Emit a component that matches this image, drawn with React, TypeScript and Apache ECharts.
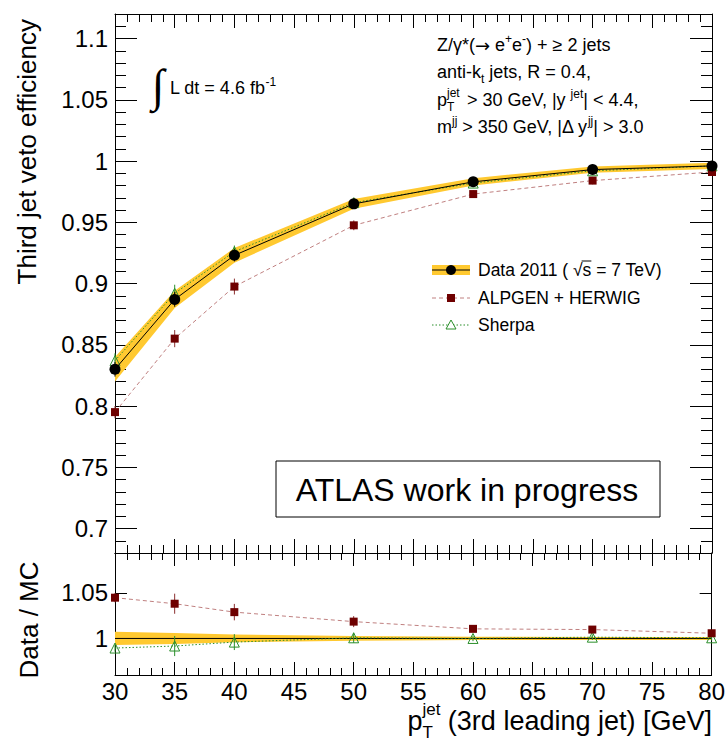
import React, { useEffect, useRef } from 'react';
import * as echarts from 'echarts';

// ---------- data ----------
const ptBins = [30, 35, 40, 50, 60, 70, 80];

const dataEff = [0.830, 0.887, 0.923, 0.965, 0.983, 0.993, 0.996];
const dataStatErr = [0.006, 0.006, 0.005, 0.003, 0.002, 0.002, 0.002];
const dataBandErr = [0.010, 0.007, 0.006, 0.004, 0.003, 0.0025, 0.0025];

const alpgenEff = [0.795, 0.855, 0.8975, 0.9475, 0.973, 0.984, 0.991];
const alpgenErr = [0.005, 0.007, 0.0065, 0.004, 0.003, 0.003, 0.003];

const sherpaEff = [0.837, 0.892, 0.926, 0.966, 0.982, 0.992, 0.996];
const sherpaErr = [0.006, 0.007, 0.005, 0.003, 0.003, 0.002, 0.002];

const dataRatio = [1, 1, 1, 1, 1, 1, 1];
const ratioBandErr = [0.0073, 0.006, 0.0042, 0.0026, 0.0018, 0.0017, 0.0017];
const alpgenRatio = [1.0446, 1.038, 1.0288, 1.0184, 1.0105, 1.0097, 1.0057];
const alpgenRatioErr = [0.005, 0.011, 0.009, 0.006, 0.003, 0.003, 0.002];
const sherpaRatio = [0.9895, 0.9917, 0.996, 1.0007, 1.0, 1.0014, 1.0007];
const sherpaRatioErr = [0.004, 0.011, 0.0087, 0.0055, 0.003, 0.003, 0.003];

const mainYTicks = [0.7, 0.75, 0.8, 0.85, 0.9, 0.95, 1, 1.05, 1.1];
const ratioYTicks = [1, 1.05];
const mainYRange = [0.68, 1.12];
const ratioYRange = [0.96, 1.0935];
const xRange = [30, 80];

// ---------- style ----------
const FF = '"Liberation Sans", Arial, Helvetica, sans-serif';
const YELLOW = '#ffc930';
const ALP_MARK = '#6e0000';
const ALP_LINE = '#c08080';
const SH = '#2b8f2b';
const ANN = 18;

function measure(text: string, size: number) {
  const c = document.createElement('canvas').getContext('2d')!;
  c.font = `${size}px "Liberation Sans"`;
  return c.measureText(text).width;
}

const tickStyle = { color: '#000', width: 1 };

function xAx(gridIndex: number, position: string, major: number, minor: number, labels: boolean) {
  return {
    type: 'value', gridIndex, position, min: xRange[0], max: xRange[1], interval: 5,
    axisLine: { show: true, onZero: false, lineStyle: { color: '#000', width: 1 } },
    axisTick: { show: true, inside: true, length: major, lineStyle: tickStyle },
    minorTick: { show: true, splitNumber: 5, length: minor, lineStyle: tickStyle },
    axisLabel: { show: labels, fontSize: 24, fontFamily: FF, color: '#000', margin: 4 },
    splitLine: { show: false }, minorSplitLine: { show: false },
  };
}

function yMinorAx(gridIndex: number, position: string, range: number[], length: number) {
  return {
    type: 'value', gridIndex, position, min: range[0], max: range[1], interval: 0.01,
    axisLine: { show: true, onZero: false, lineStyle: { color: '#000', width: 1 } },
    axisTick: { show: true, inside: true, length, lineStyle: tickStyle },
    axisLabel: { show: false },
    splitLine: { show: false },
  };
}

function yMajorAx(gridIndex: number, position: string, range: number[], ticks: number[], length: number, labels: boolean, axisLine: boolean) {
  return {
    type: 'value', gridIndex, position, min: range[0], max: range[1],
    axisLine: { show: axisLine, onZero: false, lineStyle: { color: '#000', width: 1 } },
    axisTick: { show: true, inside: true, length, lineStyle: tickStyle, customValues: ticks },
    axisLabel: {
      show: labels, customValues: ticks, fontSize: 24, fontFamily: FF, color: '#000', margin: 7,
      formatter: (v: number) => String(Number(v.toFixed(3))),
    },
    splitLine: { show: false },
  };
}

function bandSeries(xi: number, yi: number, ys: number[], errs: number[], color: string) {
  return {
    type: 'custom', xAxisIndex: xi, yAxisIndex: yi, z: 1, silent: true,
    data: ptBins.map((x, i) => [x, ys[i] - errs[i], ys[i] + errs[i]]),
    encode: { x: 0, y: [1, 2] },
    renderItem: (params: any, api: any) => {
      if (params.dataIndex !== 0) return { type: 'group', children: [] };
      const upper = ptBins.map((x, i) => api.coord([x, ys[i] + errs[i]]));
      const lower = ptBins.map((x, i) => api.coord([x, ys[i] - errs[i]])).reverse();
      return {
        type: 'polygon',
        shape: { points: upper.concat(lower) },
        style: { fill: color, stroke: 'none' },
      };
    },
  };
}

function errSeries(xi: number, yi: number, ys: number[], errs: number[], color: string, z: number) {
  return {
    type: 'custom', xAxisIndex: xi, yAxisIndex: yi, z, silent: true,
    data: ptBins.map((x, i) => [x, ys[i] - errs[i], ys[i] + errs[i]]),
    encode: { x: 0, y: [1, 2] },
    renderItem: (params: any, api: any) => {
      const a = api.coord([api.value(0), api.value(1)]);
      const b = api.coord([api.value(0), api.value(2)]);
      return {
        type: 'line',
        shape: { x1: a[0], y1: a[1], x2: b[0], y2: b[1] },
        style: { stroke: color, lineWidth: 1 },
      };
    },
  };
}

function lineSeries(xi: number, yi: number, ys: number[], opts: any) {
  return {
    type: 'line', xAxisIndex: xi, yAxisIndex: yi, clip: false, silent: true,
    data: ptBins.map((x, i) => [x, ys[i]]),
    ...opts,
  };
}

const RICH = {
  sup: { fontSize: 12, fontFamily: FF, fill: '#000', verticalAlign: 'top', lineHeight: 11 },
  sub: { fontSize: 12, fontFamily: FF, fill: '#000', verticalAlign: 'bottom', lineHeight: 11 },
  arr: { fontSize: ANN, fontFamily: '"DejaVu Sans"', fill: '#000' },
};

function txt(x: number, y: number, text: string, size: number, o: any = {}) {
  return {
    type: 'text', x, y, silent: true, z: 100,
    rotation: o.rotation || 0,
    style: {
      text, fontSize: size, fontFamily: o.family || FF, fill: '#000',
      align: o.align || 'left', textAlign: o.align || 'left',
      verticalAlign: o.va || 'middle', textVerticalAlign: o.va || 'middle',
      lineHeight: o.lineHeight, rich: o.rich,
    },
  };
}

function buildOption() {
  // x title pieces (right aligned at plot right edge)
  const xMain = ' (3rd leading jet) [GeV]';
  const wMain = measure(xMain, 27);
  const wJet = measure('jet', 17);
  const xJet = 712 - wMain - wJet;

  // legend sqrt overline
  const legendX = 478;
  const LEG = 17.5;
  const wPre = measure('Data 2011 ( √', LEG);
  const wS = measure('s', LEG);

  const graphic: any[] = [
    // y titles
    txt(27, 19, 'Third jet veto efficiency', 26, { align: 'right', rotation: Math.PI / 2 }),
    txt(29, 620, 'Data / MC', 26, { align: 'center', rotation: Math.PI / 2 }),
    // x title
    txt(xJet, 721, 'p', 27, { align: 'right' }),
    txt(xJet, 709, 'jet', 17),
    txt(xJet, 732, 'T', 17),
    txt(712, 721, xMain, 27, { align: 'right' }),
    // luminosity
    txt(158, 85, '∫', 46, { align: 'center', family: '"Liberation Serif"' }),
    txt(170, 88, 'L dt = 4.6 fb{sup|-1}', ANN, { lineHeight: 24, rich: RICH }),
    // selection text
    txt(437, 45, 'Z/γ*({arr|→} e{sup|+}e{sup|-}) + ≥ 2 jets', ANN, { lineHeight: 25, rich: RICH }),
    txt(437, 72, 'anti-k{sub|t} jets, R = 0.4,', ANN, { lineHeight: 25, rich: RICH }),
    txt(437, 100, 'p', ANN),
    txt(447, 93, 'jet', 12),
    txt(447, 107, 'T', 12),
    txt(462, 100, ' > 30 GeV, |y {sup|jet}| < 4.4,', ANN, { lineHeight: 25, rich: RICH }),
    txt(437, 127, 'm{sup|jj} > 350 GeV, |Δ y{sup|jj}| > 3.0', ANN, { lineHeight: 25, rich: RICH }),
    // legend
    { type: 'rect', silent: true, z: 100, shape: { x: 432, y: 265, width: 38, height: 10 }, style: { fill: YELLOW } },
    { type: 'line', silent: true, z: 101, shape: { x1: 432, y1: 270, x2: 470, y2: 270 }, style: { stroke: '#000', lineWidth: 1 } },
    { type: 'circle', silent: true, z: 102, shape: { cx: 451, cy: 270, r: 5 }, style: { fill: '#000' } },
    txt(legendX, 270, 'Data 2011 ( √s = 7 TeV)', LEG),
    { type: 'line', silent: true, z: 101, shape: { x1: legendX + wPre - 1, y1: 261, x2: legendX + wPre + wS, y2: 261 }, style: { stroke: '#000', lineWidth: 1 } },
    { type: 'line', silent: true, z: 101, shape: { x1: 432, y1: 298, x2: 470, y2: 298 }, style: { stroke: ALP_LINE, lineWidth: 1, lineDash: [4, 3] } },
    { type: 'rect', silent: true, z: 102, shape: { x: 447, y: 294, width: 8, height: 8 }, style: { fill: ALP_MARK } },
    txt(legendX, 298, 'ALPGEN + HERWIG', LEG),
    { type: 'line', silent: true, z: 101, shape: { x1: 432, y1: 325, x2: 470, y2: 325 }, style: { stroke: SH, lineWidth: 1, lineDash: [1.5, 2] } },
    { type: 'polygon', silent: true, z: 102, shape: { points: [[451, 320], [456, 329], [446, 329]] }, style: { fill: '#fff', stroke: SH, lineWidth: 1 } },
    txt(legendX, 325, 'Sherpa', LEG),
    // ATLAS box
    { type: 'rect', silent: true, z: 100, shape: { x: 276, y: 461, width: 384, height: 56 }, style: { fill: '#fff', stroke: '#000', lineWidth: 1 } },
    txt(467, 490, 'ATLAS work in progress', 32, { align: 'center' }),
  ];

  return {
    animation: false,
    backgroundColor: '#fff',
    grid: [
      { left: 115, right: 16, top: 14, height: 539 },
      { left: 115, right: 16, top: 553, height: 122 },
    ],
    xAxis: [
      xAx(0, 'bottom', 14, 8, false),
      xAx(0, 'top', 14, 8, false),
      xAx(1, 'bottom', 13, 7, true),
      xAx(1, 'top', 13, 7, false),
    ],
    yAxis: [
      yMinorAx(0, 'left', mainYRange, 11),
      yMajorAx(0, 'left', mainYRange, mainYTicks, 22, true, false),
      yMinorAx(0, 'right', mainYRange, 11),
      yMajorAx(0, 'right', mainYRange, mainYTicks, 22, false, false),
      yMajorAx(1, 'left', ratioYRange, ratioYTicks, 12, true, true),
      yMajorAx(1, 'right', ratioYRange, ratioYTicks, 12, false, true),
    ],
    series: [
      // main panel
      bandSeries(0, 0, dataEff, dataBandErr, YELLOW),
      lineSeries(0, 0, sherpaEff, {
        z: 2, symbol: 'triangle', symbolSize: 10,
        itemStyle: { color: 'rgba(255,255,255,0)', borderColor: SH, borderWidth: 1 },
        lineStyle: { color: SH, width: 1, type: [1.5, 2] },
      }),
      errSeries(0, 0, sherpaEff, sherpaErr, SH, 2),
      lineSeries(0, 0, alpgenEff, {
        z: 3, symbol: 'rect', symbolSize: 8,
        itemStyle: { color: ALP_MARK },
        lineStyle: { color: ALP_LINE, width: 1, type: [4, 3] },
      }),
      errSeries(0, 0, alpgenEff, alpgenErr, '#8b3030', 3),
      errSeries(0, 0, dataEff, dataStatErr, '#000', 4),
      lineSeries(0, 0, dataEff, {
        z: 5, symbol: 'circle', symbolSize: 11,
        itemStyle: { color: '#000' },
        lineStyle: { color: '#000', width: 1 },
      }),
      // ratio panel
      bandSeries(2, 4, dataRatio, ratioBandErr, YELLOW),
      lineSeries(2, 4, dataRatio, {
        z: 2, symbol: 'none',
        lineStyle: { color: '#000', width: 1 },
      }),
      lineSeries(2, 4, sherpaRatio, {
        z: 3, symbol: 'triangle', symbolSize: 10,
        itemStyle: { color: 'rgba(255,255,255,0)', borderColor: SH, borderWidth: 1 },
        lineStyle: { color: SH, width: 1, type: [1.5, 2] },
      }),
      errSeries(2, 4, sherpaRatio, sherpaRatioErr, SH, 3),
      lineSeries(2, 4, alpgenRatio, {
        z: 4, symbol: 'rect', symbolSize: 8,
        itemStyle: { color: ALP_MARK },
        lineStyle: { color: ALP_LINE, width: 1, type: [4, 3] },
      }),
      errSeries(2, 4, alpgenRatio, alpgenRatioErr, '#8b3030', 4),
    ],
    graphic,
  };
}

export default function App() {
  const ref = useRef<HTMLDivElement>(null);
  useEffect(() => {
    document.body.style.margin = '0';
    const chart = echarts.init(ref.current!, null, { renderer: 'svg' });
    chart.setOption(buildOption() as any);
    return () => chart.dispose();
  }, []);
  return <div ref={ref} style={{ width: 728, height: 741 }} />;
}
